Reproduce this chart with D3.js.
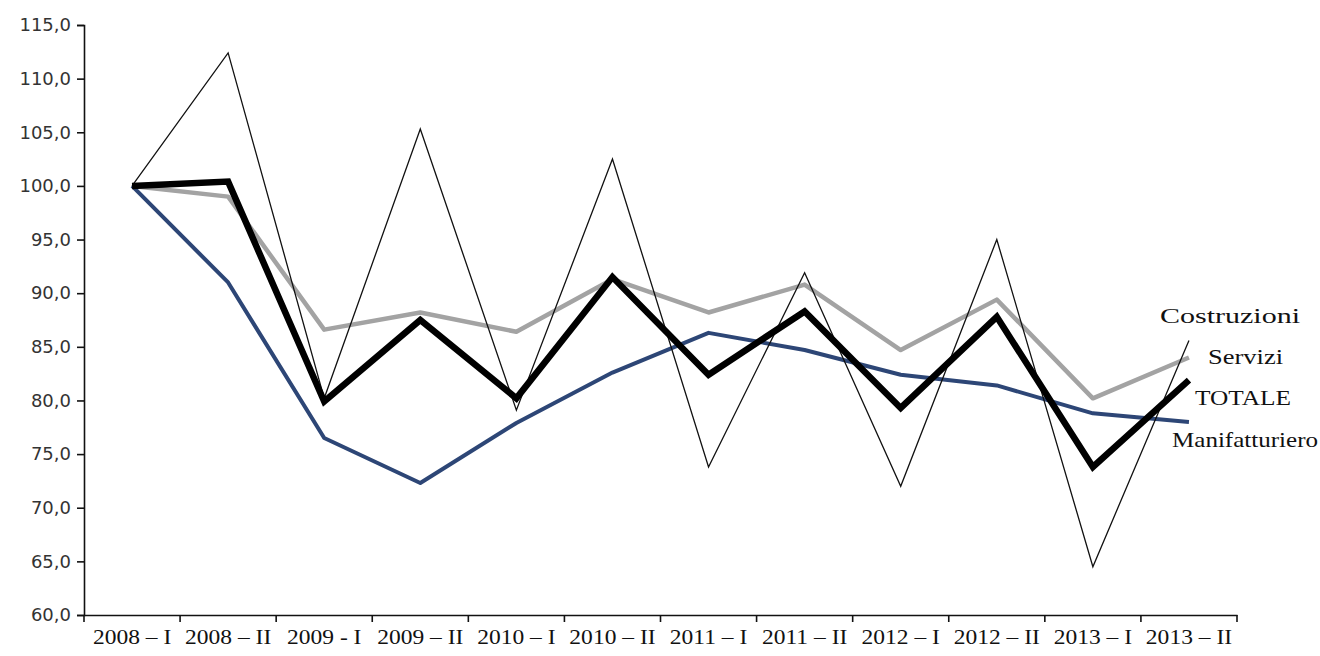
<!DOCTYPE html>
<html>
<head>
<meta charset="utf-8">
<script src="https://cdn.jsdelivr.net/npm/d3@7"></script>
<style>
  body { margin: 0; background: #fff; }
  svg { display: block; }
</style>
</head>
<body>
<svg id="chart" width="1320" height="656"></svg>
<script>
// periodi (semestri)
var periodi = ["2008 – I", "2008 – II", "2009 - I", "2009 – II", "2010 – I", "2010 – II",
               "2011 – I", "2011 – II", "2012 – I", "2012 – II", "2013 – I", "2013 – II"];

// indici 2008-I = 100
var costruzioni    = [100.0, 112.4, 80.2, 105.3, 79.1, 102.5, 73.8, 91.9, 72.0, 95.0, 64.5, 85.6];
var servizi        = [100.0, 99.0, 86.6, 88.2, 86.4, 91.3, 88.2, 90.8, 84.7, 89.4, 80.2, 84.0];
var totale         = [100.0, 100.4, 79.9, 87.5, 80.2, 91.5, 82.4, 88.3, 79.3, 87.8, 73.8, 81.9];
var manifatturiero = [100.0, 91.0, 76.5, 72.3, 77.9, 82.6, 86.3, 84.7, 82.4, 81.4, 78.8, 78.0];

var yTicks = [60, 65, 70, 75, 80, 85, 90, 95, 100, 105, 110, 115];

var svg = d3.select("#chart");

var mLeft = 84, mRight = 1237, mTop = 25, mBottom = 615;

var x = d3.scaleBand()
    .domain(periodi)
    .range([mLeft, mRight]);

var y = d3.scaleLinear()
    .domain([60, 115])
    .range([mBottom, mTop]);

// assi
var fmt = function (d) { return d3.format(".1f")(d).replace(".", ","); };

var gy = svg.append("g")
    .attr("transform", "translate(" + mLeft + ",0)")
    .call(d3.axisLeft(y).tickValues(yTicks).tickFormat(fmt).tickSize(7).tickPadding(6));
gy.select(".domain").attr("stroke", "#111").attr("stroke-width", 1.6);
gy.selectAll(".tick line").attr("stroke", "#111").attr("stroke-width", 1.6);
gy.selectAll(".tick text")
    .attr("fill", "#333")
    .style("font-family", "DejaVu Sans")
    .style("font-size", "18px");

var gx = svg.append("g")
    .attr("transform", "translate(0," + mBottom + ")")
    .call(d3.axisBottom(x).tickSize(0).tickPadding(14));
gx.select(".domain").attr("stroke", "#111").attr("stroke-width", 1.6);
gx.selectAll(".tick text")
    .attr("fill", "#111")
    .attr("transform", "scale(1.12,1)")
    .style("font-family", "Liberation Serif")
    .style("font-size", "21px");

// tacche tra le categorie
var bordi = periodi.map(function (p) { return x(p); }).concat([mRight]);
svg.append("g")
    .selectAll("line")
    .data(bordi)
    .enter()
    .append("line")
    .attr("x1", function (d) { return d; })
    .attr("x2", function (d) { return d; })
    .attr("y1", mBottom)
    .attr("y2", mBottom + 7)
    .attr("stroke", "#111")
    .attr("stroke-width", 1.6);

// linee
function linea(curve) {
    return d3.line()
        .x(function (d, i) { return x(periodi[i]) + x.bandwidth() / 2; })
        .y(function (d) { return y(d); })
        .curve(curve);
}

svg.append("path")
    .datum(servizi)
    .attr("d", linea(d3.curveLinear))
    .attr("fill", "none")
    .attr("stroke", "#a3a3a3")
    .attr("stroke-width", 4.5)
    .attr("stroke-linejoin", "round");

svg.append("path")
    .datum(manifatturiero)
    .attr("d", linea(d3.curveLinear))
    .attr("fill", "none")
    .attr("stroke", "#2d4676")
    .attr("stroke-width", 4)
    .attr("stroke-linejoin", "round");

svg.append("path")
    .datum(costruzioni)
    .attr("d", linea(d3.curveLinear))
    .attr("fill", "none")
    .attr("stroke", "#111")
    .attr("stroke-width", 1.3);

svg.append("path")
    .datum(totale)
    .attr("d", linea(d3.curveLinear))
    .attr("fill", "none")
    .attr("stroke", "#000")
    .attr("stroke-width", 6.5)
    .attr("stroke-linejoin", "miter");

// etichette delle serie
var etichette = [
    { nome: "Costruzioni", x: 1160, y: 323, w: 140 },
    { nome: "Servizi", x: 1208, y: 364, w: 75 },
    { nome: "TOTALE", x: 1195, y: 405, w: 96 },
    { nome: "Manifatturiero", x: 1172, y: 447, w: 146 }
];
svg.append("g")
    .selectAll("text")
    .data(etichette)
    .enter()
    .append("text")
    .attr("x", function (d) { return d.x; })
    .attr("y", function (d) { return d.y; })
    .attr("textLength", function (d) { return d.w; })
    .attr("lengthAdjust", "spacingAndGlyphs")
    .attr("fill", "#111")
    .style("font-family", "Liberation Serif")
    .style("font-size", "21px")
    .text(function (d) { return d.nome; });
</script>
</body>
</html>
